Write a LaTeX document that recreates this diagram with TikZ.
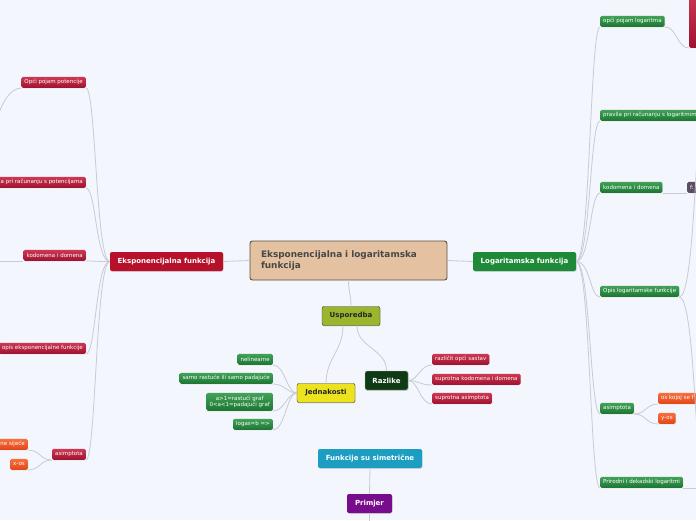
\documentclass[tikz,border=0pt]{standalone}
\usepackage{fontspec}
\setmainfont{DejaVu Sans}
\usetikzlibrary{shadows}

\definecolor{bgcol}{RGB}{243,246,253}
\definecolor{linecol}{RGB}{200,202,212}
\definecolor{crimson}{RGB}{183,16,42}
\definecolor{redtop}{RGB}{206,56,82}
\definecolor{redbot}{RGB}{158,18,48}
\definecolor{mgreen}{RGB}{30,138,56}
\definecolor{greentop}{RGB}{66,162,88}
\definecolor{greenbot}{RGB}{28,118,50}
\definecolor{orangetop}{RGB}{246,112,62}
\definecolor{orangebot}{RGB}{226,70,24}
\definecolor{tan}{RGB}{228,193,160}
\definecolor{tanborder}{RGB}{92,78,64}
\definecolor{olive}{RGB}{155,181,44}
\definecolor{lemon}{RGB}{236,226,30}
\definecolor{forest}{RGB}{14,58,22}
\definecolor{teal}{RGB}{27,158,194}
\definecolor{plum}{RGB}{119,12,140}
\definecolor{slate}{RGB}{92,76,100}

\tikzset{
  mainbox/.style={rounded corners=2pt, minimum height=19pt, inner xsep=3pt, inner ysep=0pt,
    font=\fontsize{7}{8}\selectfont\bfseries, text=white,
    drop shadow={shadow xshift=0.6pt, shadow yshift=-0.8pt, opacity=0.25}},
  leaf/.style={rounded corners=1.5pt, minimum height=11pt, inner xsep=3pt, inner ysep=0pt,
    font=\fontsize{5.5}{6.5}\selectfont, text=white,
    drop shadow={shadow xshift=0.4pt, shadow yshift=-0.6pt, opacity=0.2}},
  redleaf/.style={leaf, top color=redtop, bottom color=redbot},
  greenleaf/.style={leaf, top color=greentop, bottom color=greenbot},
  orangeleaf/.style={leaf, top color=orangetop, bottom color=orangebot},
  branch/.style={draw=linecol, line width=0.8pt}
}

\begin{document}
\begin{tikzpicture}[x=1pt, y=-1pt]
  \useasboundingbox (0,0) rectangle (696,520);
  \clip (0,0) rectangle (696,520);
  \fill[bgcol] (0,0) rectangle (696,520);

  % Central topic
  \node[rounded corners=2.5pt, fill=tan, draw=tanborder, line width=0.9pt,
        minimum width=197pt, minimum height=39pt, inner xsep=11pt, text width=175pt, align=left,
        font=\fontsize{8.9}{10.5}\selectfont\bfseries, text={black!72}] (center) at (348.5,260.5)
        {Eksponencijalna i logaritamska\\funkcija};

  % Main branches
  \node[mainbox, fill=crimson, minimum width=113pt] (ef) at (166.5,261.5) {Eksponencijalna funkcija};
  \node[mainbox, fill=mgreen, minimum width=103pt] (lf) at (524.5,261.5) {Logaritamska funkcija};
  \node[mainbox, fill=olive, draw=black!80, text=black!85, minimum width=58pt] (usp) at (351,316) {Usporedba};
  \node[mainbox, fill=lemon, draw=black!80, text=black!85, minimum width=58pt] (jed) at (326,393) {Jednakosti};
  \node[mainbox, fill=forest, draw=white!70!forest, minimum width=43pt] (raz) at (386.5,380.5) {Razlike};
  \node[mainbox, fill=teal, minimum width=104pt] (sim) at (370,458.5) {Funkcije su simetrične};
  \node[mainbox, fill=plum, minimum width=45pt] (prim) at (369.5,503.5) {Primjer};

  % Exponential subtopics
  \node[redleaf, anchor=south east] (ep1) at (86,88) {Opći pojam potencije};
  \node[redleaf, anchor=south east] (ep2) at (86,188) {pravila pri računanju s potencijama};
  \node[redleaf, anchor=south east] (ep3) at (86,261) {kodomena i domena};
  \node[redleaf, anchor=south east] (ep4) at (86,354) {opis eksponencijalne funkcije};
  \node[redleaf, anchor=south east] (ep5) at (86,460) {asimptota};
  \node[orangeleaf, anchor=south east] (ea1) at (28,450) {ne sijeće};
  \node[orangeleaf, anchor=south east] (ea2) at (28,470) {x-os};
  \coordinate (ep1c) at (-4,125);
  \coordinate (ep3c) at (-6,261);

  % Logarithmic subtopics
  \node[greenleaf, anchor=south west] (lp1) at (600,27) {opći pojam logaritma};
  \node[greenleaf, anchor=south west] (lp2) at (600,121) {pravila pri računanju s logaritmima};
  \node[greenleaf, anchor=south west] (lp3) at (600,193) {kodomena i domena};
  \node[greenleaf, anchor=south west] (lp4) at (600,297) {Opis logaritamske funkcije};
  \node[greenleaf, anchor=south west] (lp5) at (600,414) {asimptota};
  \node[greenleaf, anchor=south west] (lp6) at (600,488) {Prirodni i dekadski logaritmi};
  \node[orangeleaf, anchor=south west] (la1) at (658,404) {os kojoj se f};
  \node[orangeleaf, anchor=south west] (la2) at (658,424) {y-os};
  \node[leaf, top color=redtop, bottom color=redbot, minimum width=30pt, minimum height=56pt,
        anchor=south west] (lp1a) at (689,48) {};
  \node[leaf, fill=slate, minimum width=20pt, anchor=south west, align=left,
        text width=14pt] (lp3a) at (687,193) {f:};
  \coordinate (lp4u) at (699,150);
  \coordinate (lp4d) at (699,440);
  \coordinate (lp6c) at (700,488);

  % Comparison subtopics
  \node[greenleaf, anchor=south east] (j1) at (273,365) {nelinearne};
  \node[greenleaf, anchor=south east] (j2) at (273,384) {samo rastuće ili samo padajuće};
  \node[greenleaf, anchor=south east, minimum height=18pt, align=center] (j3) at (273,411)
        {a>1=rastući graf\\0<a<1=padajući graf};
  \node[greenleaf, anchor=south east] (j4) at (273,430) {logas=b =>};
  \node[redleaf, anchor=south west] (r1) at (432,365) {različit opći sastav};
  \node[redleaf, anchor=south west] (r2) at (432,385) {suprotna kodomena i domena};
  \node[redleaf, anchor=south west] (r3) at (432,404) {suprotna asimptota};
  \coordinate (primc) at (369.5,525);

  % Connectors
  \draw[branch] (center.west) -- (ef.east);
  \draw[branch] (center.east) -- (lf.west);
  \draw[branch] (center.south) .. controls +(0,10) and +(0,-10) .. (usp.north);
  \draw[branch] ([xshift=-8pt]usp.south) .. controls +(0,25) and +(0,-25) .. (jed.north);
  \draw[branch] ([xshift=6pt]usp.south) .. controls +(0,22) and +(0,-22) .. (raz.north);
  \draw[branch] (sim.south) -- (prim.north);
  \draw[branch] (prim.south) -- (primc);
  \foreach \n in {ep1,ep2,ep3,ep4,ep5}
    \draw[branch] (\n.south east) .. controls +(10,0) and +(-14,0) .. (ef.west);
  \foreach \n in {lp1,lp2,lp3,lp4,lp5,lp6}
    \draw[branch] (\n.south west) .. controls +(-10,0) and +(14,0) .. (lf.east);
  \foreach \n in {ea1,ea2}
    \draw[branch] (\n.south east) .. controls +(12,0) and +(-12,0) .. (ep5.south west);
  \foreach \n in {la1,la2}
    \draw[branch] (\n.south west) .. controls +(-12,0) and +(12,0) .. (lp5.south east);
  \foreach \n in {j1,j2,j3,j4}
    \draw[branch] (\n.south east) .. controls +(12,0) and +(-10,0) .. (jed.west);
  \foreach \n in {r1,r2,r3}
    \draw[branch] (\n.south west) .. controls +(-12,0) and +(10,0) .. (raz.east);
  \draw[branch] (ep1.south west) .. controls +(-12,0) and +(3,-18) .. (ep1c);
  \draw[branch] (ep3.south west) -- (ep3c);
  \draw[branch] (lp1.south east) .. controls +(12,0) and +(-12,0) .. (lp1a.south west);
  \draw[branch] (lp3.south east) -- (lp3a.south west);
  \draw[branch] (lp4.south east) .. controls +(14,0) and +(-4,0) .. (lp4u);
  \draw[branch] (lp4.south east) .. controls +(14,0) and +(-4,0) .. (lp4d);
  \draw[branch] (lp6.south east) -- (lp6c);
\end{tikzpicture}
\end{document}
